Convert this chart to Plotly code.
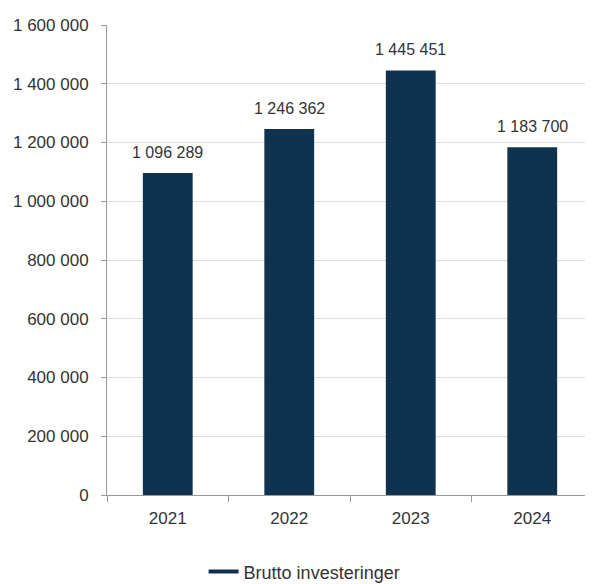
import plotly.graph_objects as go

years = ["2021", "2022", "2023", "2024"]
values = [1096289, 1246362, 1445451, 1183700]
series_name = "Brutto investeringer"
y_ticks = [0, 200000, 400000, 600000, 800000, 1000000, 1200000, 1400000, 1600000]

bar_color = "#0f324e"
text_color = "#333333"
font_family = "Liberation Sans, Arial, sans-serif"

fig = go.Figure()
fig.add_trace(go.Bar(
    x=years, y=values, marker=dict(color=bar_color, line=dict(width=0)),
    width=0.41, showlegend=False, hoverinfo="skip",
))
fig.add_trace(go.Scatter(
    x=[years[0]], y=[None], mode="lines", name=series_name,
    line=dict(color=bar_color, width=4), showlegend=True, hoverinfo="skip",
))

for i, v in enumerate(values):
    fig.add_annotation(
        x=i, y=v, xref="x", yref="y", text=f"{v:,}".replace(",", " "), showarrow=False,
        yanchor="bottom", yshift=10, font=dict(size=16, color=text_color, family=font_family),
    )

fig.update_layout(
    width=585, height=576,
    margin=dict(l=99, r=0, t=17, b=89),
    paper_bgcolor="white", plot_bgcolor="white",
    separators=". ",
    font=dict(family=font_family, size=16, color=text_color),
    legend=dict(
        orientation="h", xref="container", yref="container",
        x=0.507, xanchor="center", y=0.021, yanchor="middle",
        font=dict(size=18, color=text_color), itemwidth=30,
    ),
)
fig.update_xaxes(
    type="category", categoryorder="array", categoryarray=years,
    range=[-0.5, len(years) - 0.5],
    tickson="boundaries", ticks="outside", ticklen=6,
    tickcolor="#999999", showline=True, linecolor="#999999", linewidth=1,
    showgrid=False, tickfont=dict(size=17, color=text_color), ticklabelstandoff=8,
    tickangle=0, automargin=False,
)
fig.update_yaxes(
    range=[0, 1600000], tickvals=y_ticks, tickformat=",d",
    ticks="outside", ticklen=5, tickcolor="#999999",
    showline=True, linecolor="#999999", linewidth=1,
    showgrid=True, gridcolor="#dedede", gridwidth=1,
    zeroline=False, tickfont=dict(size=17, color=text_color),
    automargin=False, ticklabelstandoff=9,
)

fig.write_html("out.html")
